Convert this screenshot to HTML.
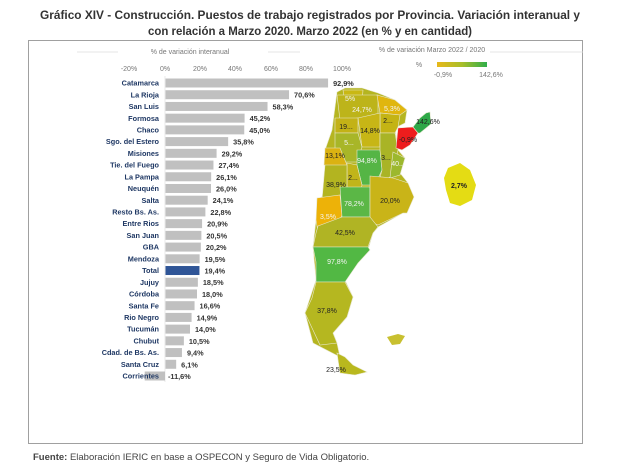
<!DOCTYPE html>
<html><head><meta charset="utf-8"><style>
html,body{margin:0;padding:0;background:#fff;}
svg{display:block;font-family:"Liberation Sans",Arial,sans-serif;}
.n{font-size:7.3px;font-weight:bold;fill:#1f3864;text-anchor:end;}
.v{font-size:7.3px;font-weight:bold;fill:#333;}
.t{font-size:7px;fill:#777;text-anchor:middle;}
.m{font-size:7px;fill:#222;text-anchor:middle;}
.mw{font-size:7px;fill:#f4f4f4;text-anchor:middle;}
</style></head><body>
<svg width="622" height="470" viewBox="0 0 622 470">
<text x="310" y="19" text-anchor="middle" font-size="12" font-weight="bold" fill="#333" textLength="540" lengthAdjust="spacingAndGlyphs">Gráfico XIV - Construcción. Puestos de trabajo registrados por Provincia. Variación interanual y</text>
<text x="310" y="35" text-anchor="middle" font-size="12" font-weight="bold" fill="#333" textLength="324" lengthAdjust="spacingAndGlyphs">con relación a Marzo 2020. Marzo 2022 (en % y en cantidad)</text>
<rect x="28.5" y="40.5" width="554" height="403" fill="#fff" stroke="#a0a0a0" stroke-width="1"/>
<line x1="77" y1="52" x2="300" y2="52" stroke="#ddd" stroke-width="0.8"/>
<line x1="490" y1="52" x2="583" y2="52" stroke="#ddd" stroke-width="0.8"/>
<rect x="118" y="46" width="150" height="10" fill="#fff"/>
<text x="190" y="54" class="t" font-size="7.3">% de variación interanual</text>
<text x="432" y="52" class="t" font-size="7.3">% de variación Marzo 2022 / 2020</text>
<g class="t">
<text x="129" y="71">-20%</text><text x="165" y="71">0%</text><text x="200" y="71">20%</text><text x="235" y="71">40%</text><text x="271" y="71">60%</text><text x="306" y="71">80%</text><text x="342" y="71">100%</text>
</g>
<line x1="165" y1="76" x2="165" y2="382" stroke="#ddd" stroke-width="0.6"/>
<defs><linearGradient id="g" x1="0" x2="1"><stop offset="0" stop-color="#e8b81a"/><stop offset="0.5" stop-color="#a8be2a"/><stop offset="1" stop-color="#2fae4a"/></linearGradient></defs>
<text x="419" y="67" class="t">%</text>
<rect x="437" y="62" width="50" height="5" fill="url(#g)"/>
<text x="443" y="77" class="t">-0,9%</text><text x="491" y="77" class="t">142,6%</text>
<g id="bars"></g>
<!-- map -->
<g stroke="#e8e8d0" stroke-width="0.6">
<polygon fill="#b5b520" points="337,92 345,88 362,88 378,93 395,100 407,110 405,123 395,128 398,150 405,158 400,173 408,183 413,197 407,213 403,213 378,227 373,233 368,250 358,263 345,280 353,297 347,317 333,333 337,343 340,357 313,343 305,313 316,280 313,247 316,220 320,203 327,180 325,150 332,130"/>
<polygon fill="#c9b814" points="343,90 363,90 362,103 345,103"/>
<polygon fill="#bdb41a" points="337,95 378,95 378,120 358,118 340,120"/>
<polygon fill="#e0b60e" points="377,95 395,100 407,110 400,115 380,113"/>
<polygon fill="#c4b414" points="380,113 400,115 398,127 395,133 380,133"/>
<polygon fill="#c7b616" points="358,118 380,113 380,147 362,147"/>
<polygon fill="#c3b216" points="335,118 358,118 358,133 335,133"/>
<polygon fill="#a8b628" points="335,133 358,133 362,147 357,162 340,162 335,150"/>
<polygon fill="#dbb212" points="325,148 340,148 347,165 330,167 324,165"/>
<polygon fill="#55b545" points="357,150 380,150 382,170 375,185 362,185 357,165"/>
<polygon fill="#a9b426" points="380,133 395,133 398,150 393,175 378,185 382,170 380,150"/>
<polygon fill="#9cb82e" points="393,152 405,158 400,175 390,178"/>
<polygon fill="#c1b51a" points="347,163 357,165 362,185 360,195 347,195"/>
<polygon fill="#b3b420" points="325,165 347,165 347,197 322,200"/>
<polygon fill="#edb208" points="317,198 340,195 342,215 335,232 318,232 316,220"/>
<polygon fill="#5bb746" points="340,187 370,187 370,217 342,217"/>
<polygon fill="#c9b418" points="370,176 393,178 408,183 414,197 407,213 403,213 378,225 370,222"/>
<polygon fill="#b0b424" points="318,226 342,217 370,217 378,227 373,233 368,247 313,247 316,233"/>
<polygon fill="#52b844" points="313,247 368,247 370,250 358,263 345,282 316,282 316,262"/>
<polygon fill="#b5b720" points="316,282 345,282 353,297 347,317 333,333 337,343 320,345 305,313 312,298"/>
<polygon fill="#b9b81e" points="337,353 345,357 353,365 367,372 355,375 340,373"/>
<polygon fill="#ee1d1d" points="398,128 413,127 418,133 410,145 402,150 396,148"/>
<polygon fill="#2ea848" points="413,127 420,118 426,113 430,112 431,124 420,133 418,133"/>
<polygon fill="#e4dc14" stroke="none" points="448,168 460,163 470,170 476,185 472,200 460,206 450,203 446,190 444,178"/>
<polygon fill="#c8c030" stroke="none" points="387,337 398,334 405,336 400,344 392,345"/>
</g>
<g>
<text x="350" y="101" class="mw">5%</text>
<text x="362" y="112" class="mw">24,7%</text>
<text x="392" y="111" class="mw">5,3%</text>
<text x="388" y="123" class="m">2...</text>
<text x="346" y="129" class="m">19...</text>
<text x="370" y="133" class="m">14,8%</text>
<text x="349" y="145" class="mw">5...</text>
<text x="335" y="158" class="m">13,1%</text>
<text x="367" y="163" class="mw">94,8%</text>
<text x="386" y="160" class="m">3...</text>
<text x="398" y="166" class="mw">40...</text>
<text x="353" y="180" class="m">2...</text>
<text x="336" y="187" class="m">38,9%</text>
<text x="354" y="206" class="mw">78,2%</text>
<text x="390" y="203" class="m">20,0%</text>
<text x="328" y="219" class="mw">3,5%</text>
<text x="345" y="235" class="m">42,5%</text>
<text x="337" y="264" class="mw">97,8%</text>
<text x="327" y="313" class="m">37,8%</text>
<text x="336" y="372" class="m">23,5%</text>
<text x="408" y="142" class="m">-0,9%</text>
<text x="428" y="124" class="m">142,6%</text>
<text x="459" y="188" class="m" font-weight="bold">2,7%</text>
</g>
<text x="33" y="460" font-size="9.5" fill="#444"><tspan font-weight="bold">Fuente:</tspan> Elaboración IERIC en base a OSPECON y Seguro de Vida Obligatorio.</text>
</svg>
<script>
var d=[["Catamarca",92.9],["La Rioja",70.6],["San Luis",58.3],["Formosa",45.2],["Chaco",45.0],["Sgo. del Estero",35.8],["Misiones",29.2],["Tie. del Fuego",27.4],["La Pampa",26.1],["Neuquén",26.0],["Salta",24.1],["Resto Bs. As.",22.8],["Entre Rios",20.9],["San Juan",20.5],["GBA",20.2],["Mendoza",19.5],["Total",19.4],["Jujuy",18.5],["Córdoba",18.0],["Santa Fe",16.6],["Rio Negro",14.9],["Tucumán",14.0],["Chubut",10.5],["Cdad. de Bs. As.",9.4],["Santa Cruz",6.1],["Corrientes",-11.6]];
var g=document.getElementById("bars"),h="",k=1.75;
d.forEach(function(r,i){var y=83+i*11.72,v=r[1];
var x=v<0?165+v*k:165.5,w=Math.abs(v)*k;
h+='<rect x="'+x+'" y="'+(y-4.5)+'" width="'+w+'" height="9" fill="'+(r[0]=="Total"?"#2f5597":"#c0c0c0")+'"/>';
h+='<text class="n" x="159" y="'+(y+2.6)+'">'+r[0]+'</text>';
var vx=v<0?168:165.5+w+5;
h+='<text class="v" x="'+vx+'" y="'+(y+3)+'">'+v.toFixed(1).replace(".",",")+'%</text>';});
g.innerHTML=h;
</script>
</body></html>
